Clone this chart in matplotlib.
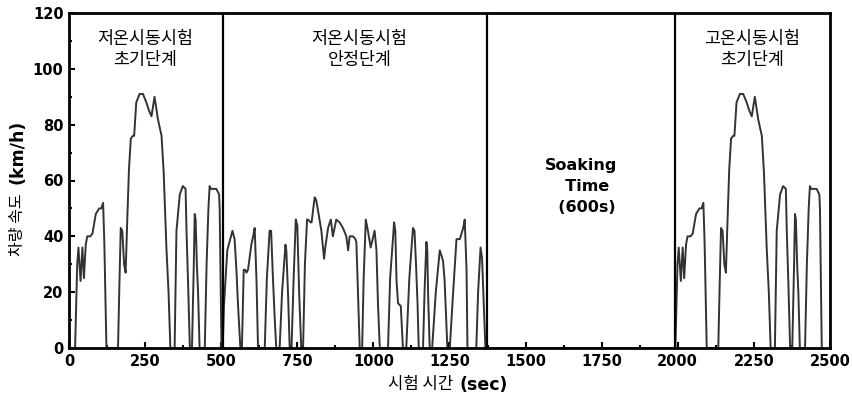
import matplotlib
matplotlib.use("Agg")
import matplotlib.pyplot as plt
import numpy as np
from matplotlib.ticker import MultipleLocator

# cold-start transient phase (0-505 s)
cold_t = [0, 20, 27, 31, 38, 44, 49, 55, 60, 70, 77, 88, 99, 106, 112, 116, 123,
          161, 165, 170, 175, 181, 186, 192, 197, 203, 210, 214, 221, 232, 243,
          254, 263, 271, 281, 292, 304, 311, 320, 327, 333,
          347, 353, 364, 374, 383, 386, 391, 397,
          404, 410, 413, 416, 420, 424, 429,
          446, 452, 458, 462, 466, 484, 493, 495, 501, 505]
cold_v = [0, 0, 30, 36, 24, 36, 25, 37, 40, 40, 41, 48, 50, 50, 52, 38, 0,
          0, 20, 43, 42, 30, 27, 48, 64, 75, 76, 76, 88, 91, 91,
          88, 85, 83, 90, 82, 76, 63, 36, 20, 0,
          0, 42, 55, 58, 57, 42, 24, 0,
          0, 30, 48, 46, 30, 20, 0,
          0, 30, 50, 58, 57, 57, 55, 50, 0, 0]

# stabilized phase (505-1372 s)
stab_t = [509, 520, 537, 544, 550, 555, 563,
          568, 574, 579, 583, 588, 599, 605, 610, 616, 621,
          643, 650, 659, 664, 670, 676, 681,
          692, 700, 711, 714, 720, 725,
          731, 738, 745, 750, 756, 763,
          769, 775, 782, 785, 794, 797, 807, 812, 820, 829, 838, 842, 851, 860,
          867, 878, 889, 900, 911, 917, 922, 933, 941, 944, 947, 952, 955,
          963, 968, 975, 982, 991, 1004, 1010, 1015, 1021,
          1048, 1055, 1068, 1072, 1076, 1081, 1090, 1097,
          1108, 1118, 1130, 1135, 1140, 1145, 1149,
          1163, 1168, 1174, 1177, 1180, 1185,
          1193, 1205, 1218, 1224, 1229, 1234, 1243,
          1251, 1262, 1273, 1284, 1295, 1300, 1306, 1309,
          1338, 1344, 1352, 1357, 1363, 1368, 1372]
stab_v = [15, 35, 42, 39, 28, 16, 0,
          0, 28, 28, 27, 28, 37, 40, 43, 24, 0,
          0, 25, 42, 42, 25, 10, 0,
          0, 20, 37, 35, 18, 0,
          0, 25, 46, 44, 20, 0,
          0, 30, 46, 46, 45, 45, 54, 53, 48, 42, 32, 36, 43, 46,
          40, 46, 45, 43, 40, 35, 40, 40, 39, 38, 28, 10, 0,
          0, 25, 46, 42, 36, 42, 35, 16, 0,
          0, 25, 45, 42, 24, 16, 15, 0,
          0, 25, 43, 42, 30, 16, 0,
          0, 20, 38, 35, 18, 0,
          0, 20, 35, 33, 31, 24, 0,
          0, 20, 39, 39, 43, 46, 28, 0,
          0, 20, 36, 32, 15, 0, 0]

hot_offset = 1972          # hot-start phase repeats the cold transient phase
phase_lines = [505, 1372, 1990]

time = np.concatenate([cold_t, stab_t, np.array(cold_t) + hot_offset])
speed = np.concatenate([cold_v, stab_v, cold_v])

kr = ["Noto Sans CJK KR", "DejaVu Sans"]

fig = plt.figure(figsize=(8.53, 4.05), dpi=100)
ax = fig.add_axes([69 / 853, 1 - 348 / 405, (830 - 69) / 853, (348 - 13) / 405])

ax.plot(time, speed, color="#333333", lw=1.4, zorder=2)
for x in phase_lines:
    ax.axvline(x, color="black", lw=1.6, zorder=3)

ax.set_xlim(0, 2500)
ax.set_ylim(0, 120)
ax.xaxis.set_major_locator(MultipleLocator(250))
ax.xaxis.set_minor_locator(MultipleLocator(125))
ax.yaxis.set_major_locator(MultipleLocator(20))
ax.yaxis.set_minor_locator(MultipleLocator(10))
ax.tick_params(which="both", direction="in", top=False, right=False, width=1.5)
ax.tick_params(which="major", length=4, pad=4)
ax.tick_params(which="minor", length=2)
for lab in ax.get_xticklabels() + ax.get_yticklabels():
    lab.set_fontweight("bold")
    lab.set_fontsize(10.5)
for sp in ax.spines.values():
    sp.set_linewidth(2)

ax.text(250, 107, "저온시동시험\n초기단계", ha="center", va="center",
        family=kr, fontsize=12.5, linespacing=1.25)
ax.text(955, 107, "저온시동시험\n안정단계", ha="center", va="center",
        family=kr, fontsize=12.5, linespacing=1.25)
ax.text(2245, 107, "고온시동시험\n초기단계", ha="center", va="center",
        family=kr, fontsize=12.5, linespacing=1.25)
ax.text(1683, 58, "Soaking\n  Time\n  (600s)", ha="center", va="center",
        fontsize=11.5, fontweight="bold", linespacing=1.5, multialignment="center")

# axis titles: Korean part regular, unit part bold
fig.text(457 / 853, 1 - 385 / 405, "시험 시간 ", ha="right", va="center",
         family=kr, fontsize=12)
fig.text(460 / 853, 1 - 385 / 405, "(sec)", ha="left", va="center",
         fontsize=12.5, fontweight="bold")
fig.text(18 / 853, 1 - 256 / 405, "차량 속도", ha="center", va="bottom",
         family=kr, fontsize=11.5, rotation=90)
fig.text(18 / 853, 1 - 184 / 405, "(km/h)", ha="center", va="bottom",
         fontsize=12.5, fontweight="bold", rotation=90)

fig.savefig("out.png", dpi=100)
